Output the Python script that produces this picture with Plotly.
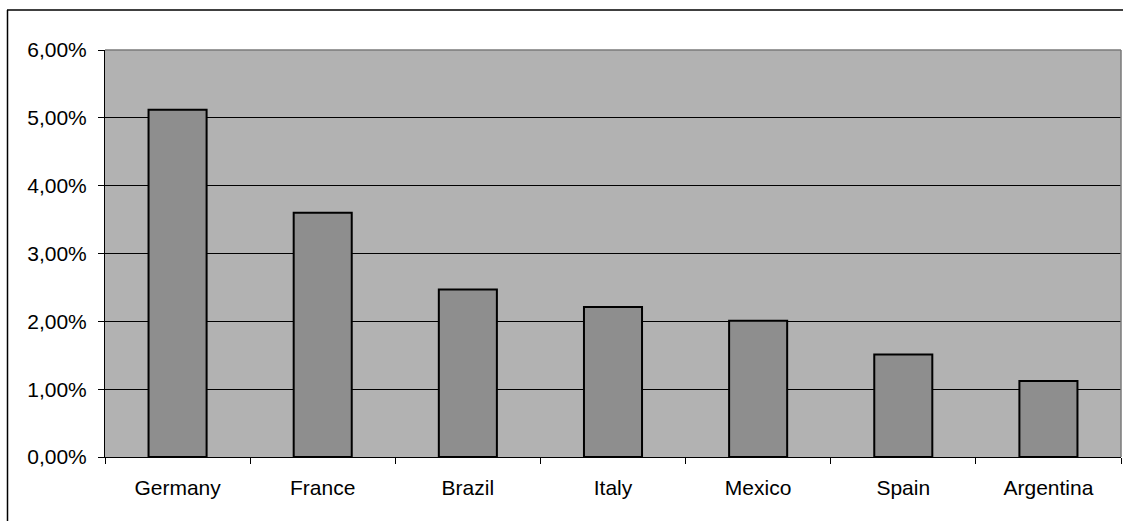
import plotly.graph_objects as go

# Share by country
countries = ["Germany", "France", "Brazil", "Italy", "Mexico", "Spain", "Argentina"]
shares = [0.0512, 0.0360, 0.0247, 0.0221, 0.0201, 0.0151, 0.0112]

W, H = 1123, 521
ML, MR, MT, MB = 105, 2, 50, 64
PW, PH = W - ML - MR, H - MT - MB

def px_x(p):
    return (p - ML) / PW

def px_y(p):
    return (H - MB - p) / PH

FONT = dict(family="Liberation Sans, Arial, sans-serif", size=21, color="black")

fig = go.Figure(
    go.Bar(
        x=countries,
        y=shares,
        marker=dict(color="#8e8e8e", line=dict(color="black", width=2)),
        hoverinfo="skip",
    )
)

fig.update_layout(
    width=W,
    height=H,
    margin=dict(l=ML, r=MR, t=MT, b=MB, pad=0),
    paper_bgcolor="white",
    plot_bgcolor="#b2b2b2",
    separators=",.",
    bargap=0.6,
    showlegend=False,
    font=FONT,
)

fig.update_xaxes(
    type="category",
    showline=True,
    linecolor="black",
    linewidth=1,
    ticks="outside",
    tickson="boundaries",
    ticklen=6,
    tickcolor="black",
    tickfont=FONT,
    ticklabelstandoff=12,
    showgrid=False,
    zeroline=False,
)

fig.update_yaxes(
    range=[0, 0.06],
    dtick=0.01,
    tickformat=".2%",
    showline=True,
    linecolor="black",
    linewidth=1,
    ticks="outside",
    ticklen=6,
    tickcolor="black",
    tickfont=FONT,
    ticklabelstandoff=7,
    showgrid=True,
    gridcolor="black",
    gridwidth=1,
    zeroline=False,
)

# Plot-area frame (top and right edges) and outer chart frame
fig.add_shape(type="line", xref="paper", yref="paper", x0=0, x1=1, y0=1, y1=1,
              line=dict(color="#7a7a7a", width=1.5), layer="above")
fig.add_shape(type="line", xref="paper", yref="paper", x0=1, x1=1, y0=0, y1=1,
              line=dict(color="#7a7a7a", width=1.5), layer="above")
fig.add_shape(type="line", xref="paper", yref="paper",
              x0=px_x(7), x1=px_x(W + 5), y0=px_y(10), y1=px_y(10),
              line=dict(color="black", width=1.5))
fig.add_shape(type="line", xref="paper", yref="paper",
              x0=px_x(7.5), x1=px_x(7.5), y0=px_y(10), y1=px_y(H + 5),
              line=dict(color="black", width=1.5))

fig.write_html("out.html")
